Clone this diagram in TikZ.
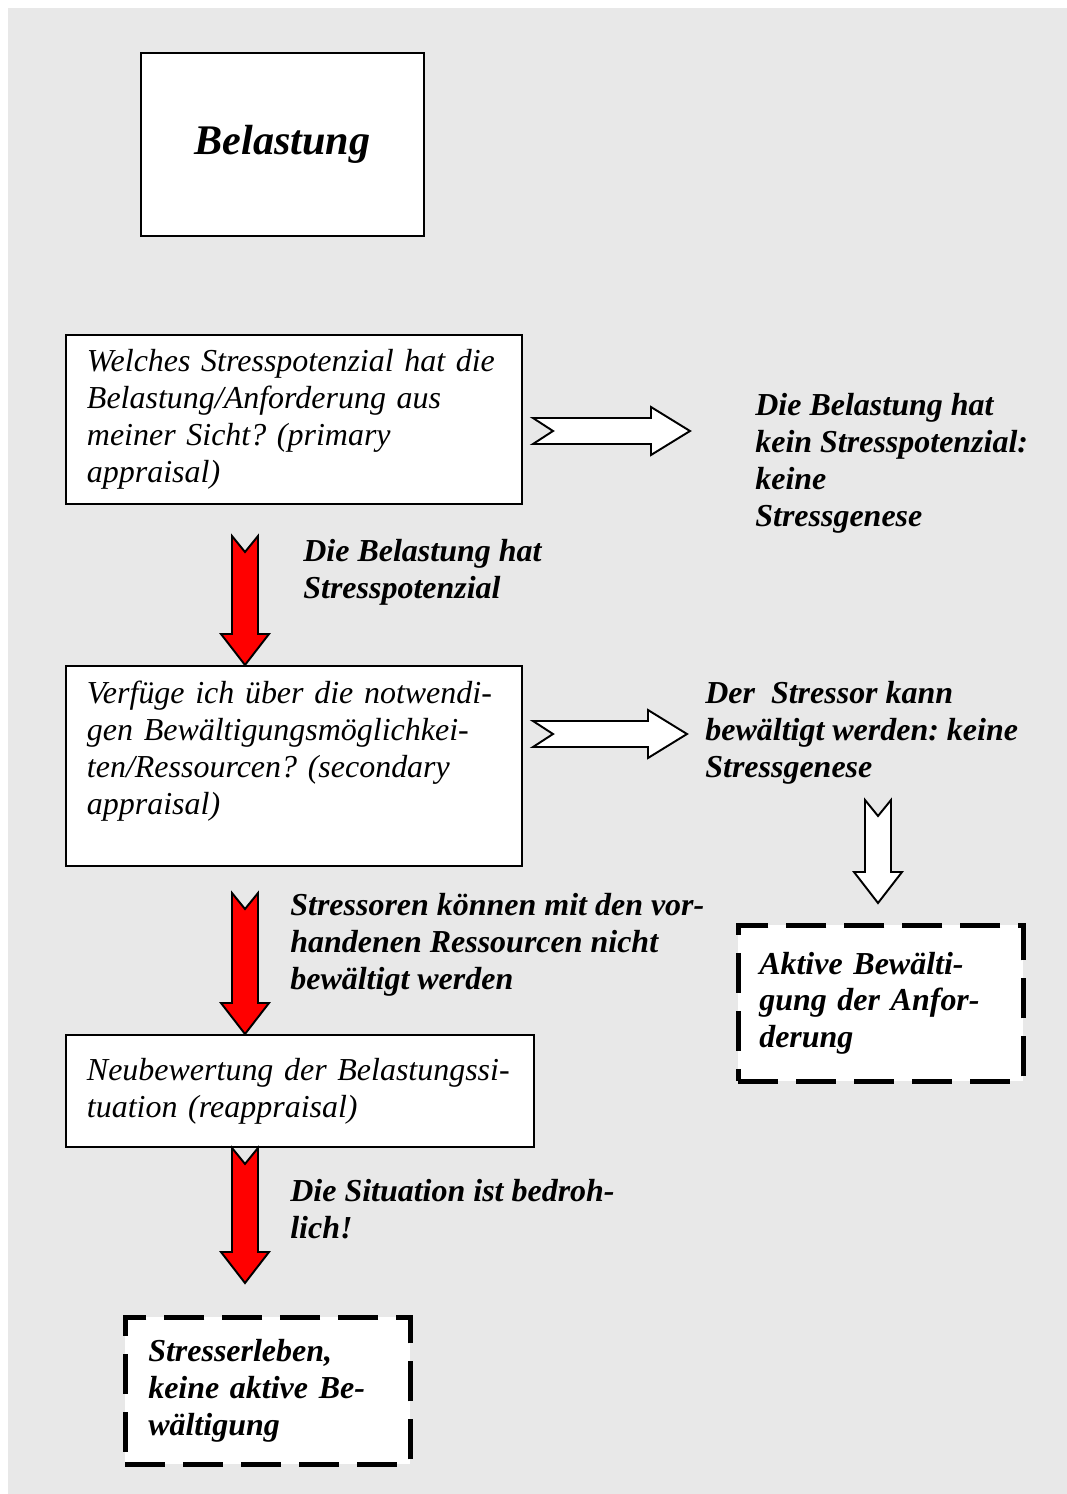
\documentclass[tikz,border=0pt]{standalone}
\usepackage{fontspec}
\setmainfont{Liberation Serif}
\usetikzlibrary{calc}
\frenchspacing

\definecolor{bggray}{HTML}{E8E8E8}

\tikzset{
  box/.style={draw=black, line width=1.1pt, fill=white, anchor=north west,
    inner xsep=0.42cm, align=left, font=\fontsize{18.2}{21}\selectfont\itshape},
  dashbox/.style={box, line width=2.6pt, dash pattern=on 0.8cm off 0.36cm,
    font=\fontsize{18.2}{21}\selectfont\bfseries\itshape},
  remark/.style={anchor=north west, inner sep=0pt, align=left,
    font=\fontsize{18.2}{21}\selectfont\bfseries\itshape},
  blockarrow/.style={draw=black, line width=1.1pt, line join=miter}
}

% block arrow pointing down: fill, top, tip
\newcommand{\blockdown}[3]{%
  \draw[blockarrow, fill=#1]
    ($(#2)+(-13,0)$) -- ($(#2)+(0,16)$) -- ($(#2)+(13,0)$)
    -- ($(#3)+(13,-31)$) -- ($(#3)+(24,-31)$) -- (#3)
    -- ($(#3)+(-24,-31)$) -- ($(#3)+(-13,-31)$) -- cycle;}
% block arrow pointing right: tail, tip
\newcommand{\blockright}[2]{%
  \draw[blockarrow, fill=white]
    ($(#1)+(0,-13)$) -- ($(#2)+(-39,-13)$) -- ($(#2)+(-39,-24)$) -- (#2)
    -- ($(#2)+(-39,24)$) -- ($(#2)+(-39,13)$) -- ($(#1)+(0,13)$)
    -- ($(#1)+(20,0)$) -- cycle;}

\begin{document}
\begin{tikzpicture}[x=0.02cm, y=-0.02cm]
  \useasboundingbox (0,0) rectangle (1067,1494);
  \fill[bggray] (8,8) rectangle (1067,1494);

  % Belastung
  \node[box, minimum width=5.66cm, minimum height=3.66cm, align=center,
    font=\fontsize{24}{28}\selectfont\bfseries\itshape]
    (belastung) at (140,52) {Belastung};

  % Bewertungen
  \node[box, text width=8.28cm, minimum height=3.38cm] (primary) at (65,334)
    {Welches Stresspotenzial hat die\\ Belastung/Anforderung aus\\
     meiner Sicht? (primary\\ appraisal)};
  \node[box, text width=8.28cm, minimum height=4cm] (secondary) at (65,665)
    {Verfüge ich über die notwendi-\\ gen Bewältigungsmöglichkei-\\
     ten/Ressourcen? (secondary\\ appraisal)\\ \mbox{}};
  \node[box, text width=8.52cm, minimum height=2.24cm] (reappraisal) at (65,1034)
    {Neubewertung der Belastungssi-\\ tuation (reappraisal)};

  % Ergebnisse
  \node[dashbox, text width=4.86cm, minimum height=3.12cm] (aktiv) at (736,923)
    {Aktive Bewälti-\\ gung der Anfor-\\ derung};
  \node[dashbox, text width=4.78cm, inner xsep=0.46cm, minimum height=2.94cm]
    (stress) at (123,1315) {Stresserleben,\\ keine aktive Be-\\ wältigung};

  % Kommentare
  \node[remark] (keinpot) at (755,393)
    {Die Belastung hat\\ kein Stresspotenzial:\\ keine\\ Stressgenese};
  \node[remark] (pot) at (303,539) {Die Belastung hat\\ Stresspotenzial};
  \node[remark] (bewaeltigt) at (705,681)
    {Der~ Stressor kann\\ bewältigt werden: keine\\ Stressgenese};
  \node[remark] (nichtbew) at (290,893)
    {Stressoren können mit den vor-\\ handenen Ressourcen nicht\\ bewältigt werden};
  \node[remark] (bedroh) at (290,1179) {Die Situation ist bedroh-\\ lich!};

  % Pfeile
  \coordinate (r1top) at (245,536);
  \coordinate (r1tip) at (r1top |- secondary.north);
  \coordinate (r2top) at (245,893);
  \coordinate (r2tip) at (r2top |- reappraisal.north);
  \coordinate (r3tip) at (245,1283);
  \coordinate (r3top) at (r3tip |- reappraisal.south);
  \coordinate (w1tail) at (533,431);
  \coordinate (w1tip) at (690,431);
  \coordinate (w2tail) at (533,734);
  \coordinate (w2tip) at (687,734);
  \coordinate (w3top) at (878,800);
  \coordinate (w3tip) at (878,903);

  \blockdown{red}{r1top}{r1tip}
  \blockdown{red}{r2top}{r2tip}
  \blockdown{red}{r3top}{r3tip}
  \blockright{w1tail}{w1tip}
  \blockright{w2tail}{w2tip}
  \blockdown{white}{w3top}{w3tip}
\end{tikzpicture}
\end{document}
